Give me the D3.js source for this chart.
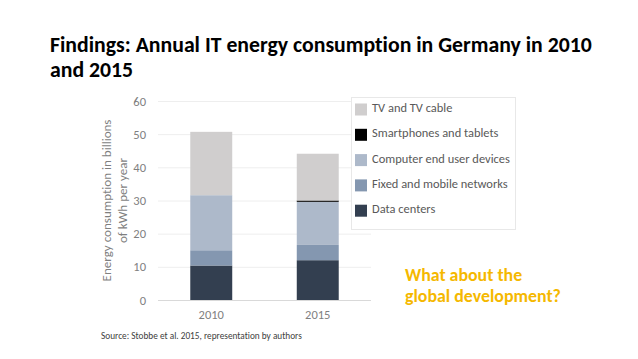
<!DOCTYPE html>
<html><head><meta charset="utf-8">
<script src="https://cdn.jsdelivr.net/npm/d3@7"></script>
<style>
html,body{margin:0;padding:0;background:#fff;}
svg{display:block;}
text{font-variant-ligatures:none;font-feature-settings:"liga" 0;}
</style></head>
<body>
<svg id="c" width="638" height="359"></svg>
<script>
// ---- data ----
const years = ["2010", "2015"];
const seriesNames = ["Data centers", "Fixed and mobile networks", "Computer end user devices", "Smartphones and tablets", "TV and TV cable"];
const dataCenters = [10.4, 12.0];
const networks = [4.6, 4.6];
const computers = [16.6, 13.0];
const smartphones = [0.0, 0.4];
const tv = [19.1, 14.1];
const yTicks = [0, 10, 20, 30, 40, 50, 60];
const seriesColors = ["#333f50", "#8497b0", "#adb9ca", "#000000", "#d0cece"];

const FONT = "Carlito, Lato, 'Open Sans', sans-serif";
const svg = d3.select("#c");

const rows = years.map((y, i) => ({
  year: y,
  "Data centers": dataCenters[i],
  "Fixed and mobile networks": networks[i],
  "Computer end user devices": computers[i],
  "Smartphones and tablets": smartphones[i],
  "TV and TV cable": tv[i]
}));
const stack = d3.stack().keys(seriesNames)(rows);

const x = d3.scaleBand().domain(years).range([158, 371]).paddingInner(0.606).paddingOuter(0.303);
const y = d3.scaleLinear().domain([0, 60]).range([300, 101]);
const color = d3.scaleOrdinal().domain(seriesNames).range(seriesColors);

// gridlines
svg.append("g").selectAll("line").data(yTicks).join("line")
  .attr("x1", 158).attr("x2", 371)
  .attr("y1", d => y(d) + 0.5).attr("y2", d => y(d) + 0.5)
  .attr("stroke", d => d === 0 ? "#d9d9d9" : "#eeeeee").attr("stroke-width", 1);

// y axis labels
const yAxis = svg.append("g").attr("transform", "translate(146,0)")
  .call(d3.axisLeft(y).tickValues(yTicks).tickSize(0).tickPadding(0));
yAxis.select(".domain").remove();
yAxis.selectAll("text").attr("font-family", FONT).attr("font-size", 12.5).attr("fill", "#7f7f7f");

// x axis labels
const xAxis = svg.append("g").attr("transform", "translate(0,305)")
  .call(d3.axisBottom(x).tickSize(0).tickPadding(5));
xAxis.select(".domain").remove();
xAxis.selectAll("text").attr("font-family", FONT).attr("font-size", 12.5).attr("fill", "#7f7f7f");

// bars
svg.append("g").selectAll("g").data(stack).join("g")
  .attr("fill", d => color(d.key))
  .selectAll("rect").data(d => d).join("rect")
  .attr("x", d => x(d.data.year))
  .attr("width", x.bandwidth())
  .attr("y", d => y(d[1]))
  .attr("height", d => y(d[0]) - y(d[1]));

// y title
const yt = svg.append("text").attr("transform", "translate(111,200.5) rotate(-90)")
  .attr("text-anchor", "middle").attr("font-family", FONT).attr("font-size", 12.5).attr("fill", "#7f7f7f");
yt.append("tspan").attr("x", 0).attr("dy", 0).text("Energy consumption in billions");
yt.append("tspan").attr("x", 0).attr("dy", 15.5).text("of kWh per year");

// legend
const lg = svg.append("g");
lg.append("rect").attr("x", 351.5).attr("y", 97.5).attr("width", 164).attr("height", 132)
  .attr("fill", "#fff").attr("stroke", "#e8e8e8");
const legendOrder = seriesNames.slice().reverse();
const li = lg.selectAll("g.item").data(legendOrder).join("g")
  .attr("transform", (d, i) => `translate(355,${109.5 + i * 25.3})`);
li.append("rect").attr("x", 0).attr("y", -6).attr("width", 12).attr("height", 12).attr("fill", d => color(d));
li.append("text").attr("x", 17).attr("y", 0).attr("dy", "0.2em")
  .attr("font-family", FONT).attr("font-size", 12).attr("fill", "#595959").text(d => d);

// title
const title = svg.append("text").attr("font-family", FONT).attr("font-weight", "bold")
  .attr("font-size", 19.5).attr("fill", "#000");
title.append("tspan").attr("x", 50).attr("y", 52).text("Findings: Annual IT energy consumption in Germany in 2010");
title.append("tspan").attr("x", 50).attr("y", 77).text("and 2015");

// source
svg.append("text").attr("x", 101).attr("y", 339).attr("font-family", FONT).attr("font-size", 8.3)
  .attr("fill", "#404040").text("Source: Stobbe et al. 2015, representation by authors");

// note
const note = svg.append("text").attr("font-family", FONT).attr("font-weight", "bold")
  .attr("font-size", 16).attr("fill", "#f5b800");
note.append("tspan").attr("x", 405).attr("y", 281).text("What about the");
note.append("tspan").attr("x", 405).attr("y", 302).text("global development?");

// fit widths to reference
const t1 = title.select("tspan").node().getComputedTextLength();
title.attr("font-size", 19.5 * 542 / t1);
const n2 = note.selectAll("tspan").nodes()[1].getComputedTextLength();
note.attr("font-size", 16 * 156 / n2);
const src = svg.selectAll("text").filter(function(){return this.textContent.startsWith("Source");});
src.attr("font-size", 8.3 * 201 / src.node().getComputedTextLength());
const yl = yt.select("tspan").node().getComputedTextLength();
yt.attr("font-size", 12.5 * 162 / yl);
const lw = li.filter(d => d === "Computer end user devices").select("text").node().getComputedTextLength();
li.selectAll("text").attr("font-size", 12 * 138 / lw);
</script>
</body></html>
